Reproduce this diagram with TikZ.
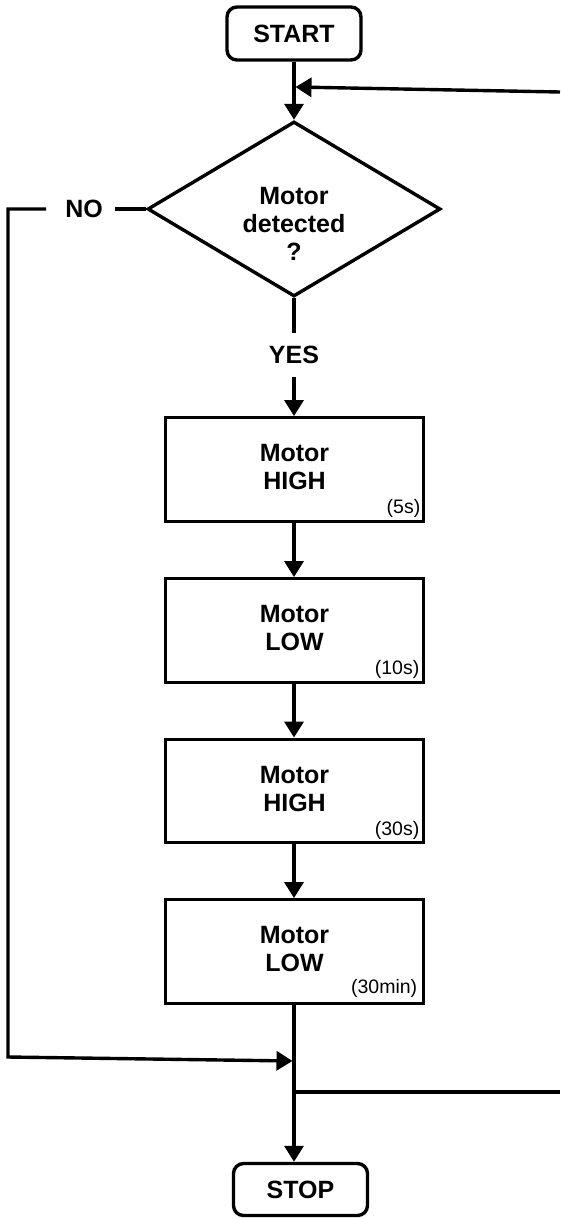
\documentclass[tikz,border=0pt]{standalone}
\usepackage{fontspec}
\setmainfont{Liberation Sans}
\usetikzlibrary{shapes.geometric,arrows.meta}
\begin{document}
\begin{tikzpicture}[x=1pt,y=-1pt,
  line width=3.4pt,
  flow/.style={-{Triangle[length=16pt,width=19pt]}},
  term/.style={draw,rounded corners=10pt,minimum width=134pt,minimum height=53pt,inner sep=0pt,font=\fontsize{25}{28}\selectfont\bfseries},
  proc/.style={draw,minimum width=257.5pt,minimum height=103.5pt,inner sep=0pt},
  lbl/.style={font=\fontsize{25}{28}\selectfont\bfseries,align=center,inner sep=0pt},
  tlbl/.style={font=\fontsize{19.5}{21}\selectfont,inner sep=0pt,anchor=base east},
  dec/.style={draw,diamond,minimum width=293pt,minimum height=175pt,inner sep=0pt,aspect=1.66}
]
\useasboundingbox (0,0) rectangle (560,1219);
\fill[white] (0,0) rectangle (560,1219);

% nodes
\node[term] (start) at (294,33.5) {START};
\node[dec] (d) at (294,209) {};
\node[lbl] (dt) at (294,224) {Motor\\detected\\?};
\node[lbl] (no) at (84,209) {NO};
\node[lbl] (yes) at (294,355) {YES};

\node[proc] (b1) at (294.5,469.5) {};
\node[proc] (b2) at (294.5,630.5) {};
\node[proc] (b3) at (294.5,791) {};
\node[proc] (b4) at (294.5,951.5) {};

\node[lbl] (b1t) at ([yshift=2pt]b1.center) {Motor\\HIGH};
\node[lbl] (b2t) at ([yshift=2pt]b2.center) {Motor\\LOW};
\node[lbl] (b3t) at ([yshift=2pt]b3.center) {Motor\\HIGH};
\node[lbl] (b4t) at ([yshift=2pt]b4.center) {Motor\\LOW};

\node[tlbl] (t1) at ([xshift=-3pt,yshift=9pt]b1.south east) {(5s)};
\node[tlbl] (t2) at ([xshift=-4pt,yshift=9pt]b2.south east) {(10s)};
\node[tlbl] (t3) at ([xshift=-4pt,yshift=9pt]b3.south east) {(30s)};
\node[tlbl] (t4) at ([xshift=-6pt,yshift=11.5pt]b4.south east) {(30min)};

\node[term,minimum height=52pt] (stop) at (300.5,1189.5) {STOP};

% coordinates
\coordinate (rt1) at (560,92);
\coordinate (lt1) at (295.5,87);
\coordinate (noR) at (115,209);
\coordinate (noL) at (46,209);
\coordinate (nc1) at (8,209);
\coordinate (nc2) at (8,1057);
\coordinate (jn) at (292.5,1061);
\coordinate (ys1) at (294,333);
\coordinate (ys2) at (294,377);
\coordinate (jr) at (294,1092);
\coordinate (rb) at (560,1092);

% connectors
\draw[flow] (start.south) -- (start.south |- d.north);
\draw[flow] (rt1) -- (lt1);
\draw (d.west) -- (noR);
\draw[flow,line join=miter] (noL) -- (nc1) -- (nc2) -- (jn);
\draw (d.south) -- (ys1);
\draw[flow] (ys2) -- (ys2 |- b1.north);
\draw[flow] (b1.south -| ys1) -- (b2.north -| ys1);
\draw[flow] (b2.south -| ys1) -- (b3.north -| ys1);
\draw[flow] (b3.south -| ys1) -- (b4.north -| ys1);
\draw[flow] (b4.south -| ys1) -- (stop.north -| ys1);
\draw (jr) -- (rb);
\end{tikzpicture}
\end{document}
